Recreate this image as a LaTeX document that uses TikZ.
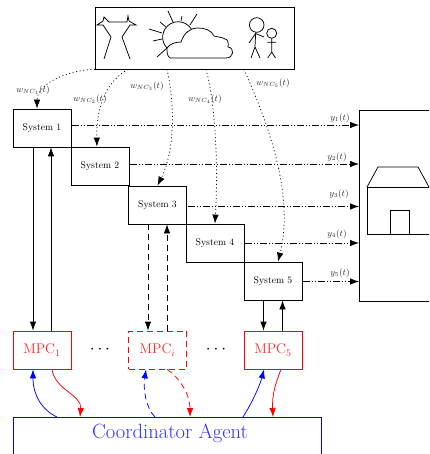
\documentclass[tikz,border=0pt]{standalone}
\usetikzlibrary{arrows.meta,calc}
\tikzset{
  x=1pt,y=-1pt,
  every picture/.style={line width=0.75pt},
  tip/.style={-{Latex[length=9pt,width=6.5pt]}},
  sysbox/.style={draw,minimum width=58pt,minimum height=38pt,inner sep=0pt,font=\fontsize{9.7}{11}\selectfont},
  mpcbox/.style={draw=red,text=red!85!white,minimum width=58pt,minimum height=38pt,inner sep=0pt,font=\fontsize{14}{16}\selectfont},
  sig/.style={tip,dash pattern=on 7pt off 2pt on 1pt off 2pt on 1pt off 2pt},
  dist/.style={tip,dash pattern=on 1pt off 2.6pt},
  dsh/.style={dash pattern=on 6pt off 4pt},
  lab/.style={font=\fontsize{9}{10}\selectfont,inner sep=0pt,text=black!85},
}
\begin{document}
\begin{tikzpicture}
\useasboundingbox (0,0) rectangle (429,454);
% top box
\node[draw,minimum width=199pt,minimum height=62pt,inner sep=0pt] (env) at (194.5,38) {};
% pylon
\draw (104,59) -- (111,37) -- (103,25) -- (97,25) -- (103,21) -- (104,17) -- (109,22) -- (127,22) -- (128,16) -- (129,21) -- (136,25) -- (130,25) -- (122,37) -- (130,59);
% sun
\draw (157,57) -- (167,48);
\draw (167,48) arc[start angle=136,end angle=328,radius=15.5];
\draw (149,29) -- (162,33) (153,41) -- (162,39) (160,22) -- (166,27) (168,11) -- (173,22) (182,16) -- (181,21) (197,14) -- (190,25);
% cloud
\draw (170,58) -- (226,58) ..controls (234,58) and (235,48) .. (228,47) ..controls (229,42) and (227,39) .. (225,39) ..controls (222,37) and (217,37) .. (214,36) ..controls (211,30) and (205,28) .. (198,28) ..controls (190,28) and (184,33) .. (181,42) ..controls (175,42) and (170,44) .. (167,48) ..controls (167,52) and (167,56) .. (170,58);
% persons
\draw (256.7,25) circle[radius=7.3];
\draw (255.7,32.3) -- (255,47) (255,47) -- (251,58) (255,47) -- (260,58) (264,37) -- (255.6,33.5) -- (249,43);
\draw (271.7,33.3) circle[radius=5];
\draw (271.7,38.3) -- (271.7,52) (271.7,52) -- (267.7,58) (271.7,52) -- (275.5,58) (267.3,42.3) -- (276,42.3);
% systems
\node[sysbox] (s1) at (42,128) {System 1};
\node[sysbox] (s2) at (100,166) {System 2};
\node[sysbox] (s3) at (157.5,205) {System 3};
\node[sysbox] (s4) at (215,243) {System 4};
\node[sysbox] (s5) at (273,281) {System 5};
% plant
\coordinate (pl) at (359,205.5);
\draw (429,110) -- (359,110) -- (359,301) -- (429,301);
\draw (429,187) -- (367,187) -- (367,234) -- (429,234);
\draw (367,187) -- (378,167) -- (418,167) -- (429,187);
\draw (390,234) -- (390,210) -- (409,210) -- (409,234);
% outputs
\draw[sig] (s1.east) ++(1,-3) coordinate (y1a) -- (y1a -| pl);
\draw[sig] (s2.east) ++(1,-2) coordinate (y2a) -- (y2a -| pl);
\draw[sig] (s3.east) ++(1,1.5) coordinate (y3a) -- (y3a -| pl);
\draw[sig] (s4.east) ++(1,0) coordinate (y4a) -- (y4a -| pl);
\draw[sig] (s5.east) ++(1,0.5) coordinate (y5a) -- (y5a -| pl);
\node[lab] (ly1) at (340,118) {$y_1(t)$};
\node[lab] (ly2) at (337,157) {$y_2(t)$};
\node[lab] (ly3) at (339,194) {$y_3(t)$};
\node[lab] (ly4) at (337,234) {$y_4(t)$};
\node[lab] (ly5) at (340,273) {$y_5(t)$};
% disturbances
\draw[dist] ([xshift=-99.5pt]env.south) ..controls (65,70) and (37,85) .. ([xshift=-5pt]s1.north);
\draw[dist] ([xshift=-66.5pt]env.south) ..controls (105,82) and (96,110) .. ([xshift=-3pt]s2.north);
\draw[dist] ([xshift=-27.5pt]env.south) ..controls (175,105) and (175,150) .. (s3.north);
\draw[dist] ([xshift=11.5pt]env.south) ..controls (216,105) and (218,170) .. (s4.north);
\draw[dist] ([xshift=49.5pt]env.south) ..controls (262,110) and (296,190) .. ([xshift=5pt]s5.north);
\node[lab] (lw1) at (33,90) {$w_{NC_1}(t)$};
\node[lab] (lw2) at (90,99) {$w_{NC_2}(t)$};
\node[lab] (lw3) at (147,86) {$w_{NC_3}(t)$};
\node[lab] (lw4) at (205,99) {$w_{NC_4}(t)$};
\node[lab] (lw5) at (273,83) {$w_{NC_5}(t)$};
% MPC
\node[mpcbox] (m1) at (42,350) {MPC$_1$};
\node[mpcbox,dsh] (mi) at (157.5,350) {MPC$_i$};
\node[mpcbox] (m5) at (273,350) {MPC$_5$};
\node[inner sep=0pt,font=\fontsize{18}{20}\selectfont] (d1) at (100,350) {$\cdots$};
\node[inner sep=0pt,font=\fontsize{18}{20}\selectfont] (d2) at (216,350) {$\cdots$};
\draw[tip] ([xshift=-9pt]s1.south) -- ([xshift=-9pt]m1.north);
\draw[tip] ([xshift=9pt]m1.north) -- ([xshift=9pt]s1.south);
\draw[tip,dsh] ([xshift=-9.5pt]s3.south) -- ([xshift=-9.5pt]mi.north);
\draw[tip,dsh] ([xshift=9.5pt]mi.north) -- ([xshift=9.5pt]s3.south);
\draw[tip] ([xshift=-9.5pt]s5.south) -- ([xshift=-9.5pt]m5.north);
\draw[tip] ([xshift=9.5pt]m5.north) -- ([xshift=9.5pt]s5.south);
% coordinator
\coordinate (ca) at (167,417);
\draw[blue] (13.5,454) -- (13.5,417) -- (321,417) -- (321,454);
\node[blue!80!white,inner sep=0pt,font=\fontsize{20.6}{24}\selectfont] (catext) at (170,433.5) {Coordinator Agent};
\draw[blue,tip] ([xshift=-110pt]ca) ..controls (42,410) and (33,395) .. ([xshift=-9pt]m1.south);
\draw[red,tip] ([xshift=10pt]m1.south) ..controls (55,390) and (82,395) .. ([xshift=-87pt]ca);
\draw[blue,tip,dsh] ([xshift=-12pt]ca) ..controls (146,408) and (143,390) .. ([xshift=-11.5pt]mi.south);
\draw[red,tip,dsh] ([xshift=9.5pt]mi.south) ..controls (180,378) and (190,395) .. ([xshift=23pt]ca);
\draw[blue,tip] ([xshift=76pt]ca) ..controls (252,403) and (260,385) .. ([xshift=-9pt]m5.south);
\draw[red,tip] ([xshift=8pt]m5.south) ..controls (275,385) and (272,395) .. ([xshift=106pt]ca);
\end{tikzpicture}
\end{document}
